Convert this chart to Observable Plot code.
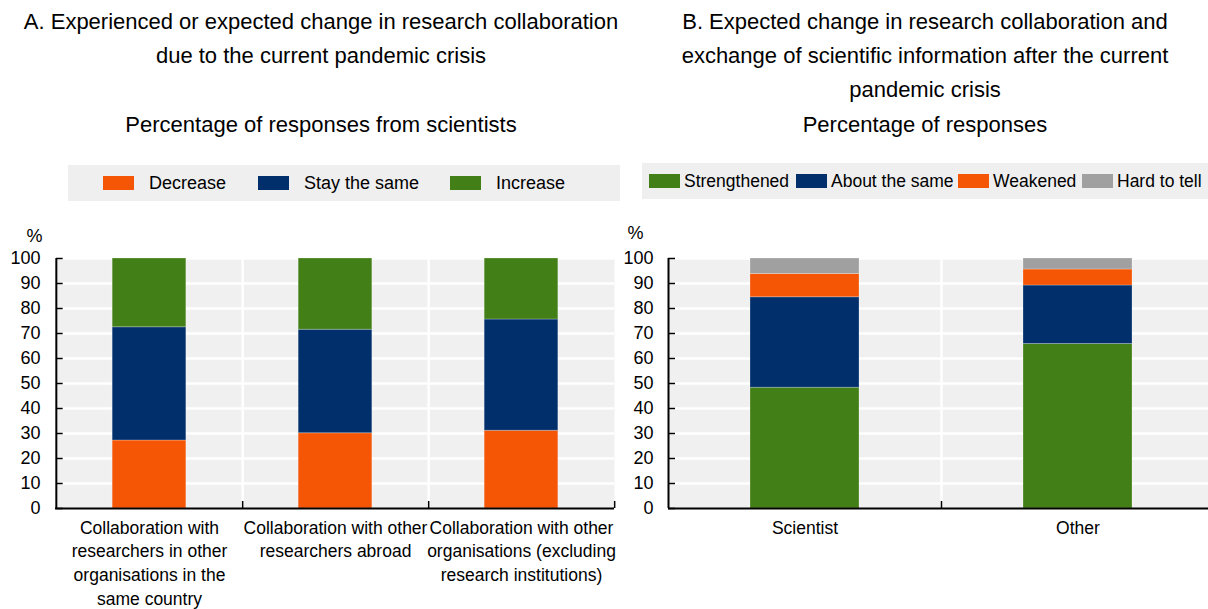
<!DOCTYPE html>
<html>
<head>
<meta charset="utf-8">
<script src="https://cdn.jsdelivr.net/npm/d3@7"></script>
<script src="https://cdn.jsdelivr.net/npm/@observablehq/plot@0.6"></script>
<style>
  html, body { margin: 0; padding: 0; background: #fff; }
  body { width: 1208px; height: 609px; position: relative; overflow: hidden;
         font-family: "Liberation Sans", Arial, sans-serif; color: #000; }
  .title { position: absolute; text-align: center; font-size: 22px; line-height: 34px; }
  .legend { position: absolute; background: #efefef; }
  .legend .item { display: flex; align-items: center; position: absolute; white-space: nowrap; }
  .legend .sw { width: 31px; height: 14px; display: inline-block; flex: none; }
  .plotwrap { position: absolute; }
  .plotwrap svg { overflow: visible; max-width: none !important; }
</style>
</head>
<body>
<div class="title" id="titleA" style="left:0px; top:5px; width:642px;"></div>
<div class="title" id="subA" style="left:0px; top:108px; width:642px;"></div>
<div class="title" id="titleB" style="left:640px; top:5px; width:570px;"></div>
<div class="title" id="subB" style="left:640px; top:108px; width:570px;"></div>
<div class="legend" id="legA" style="left:68px; top:165px; width:552px; height:36px; font-size:18px;"></div>
<div class="legend" id="legB" style="left:642px; top:163px; width:566px; height:36px; font-size:17.5px;"></div>
<div class="plotwrap" id="plotA" style="left:0px; top:220px; width:620px;"></div>
<div class="plotwrap" id="plotB" style="left:600px; top:220px; width:614px;"></div>
<script>
// ---------- Data ----------
const titleA = ["A. Experienced or expected change in research collaboration", "due to the current pandemic crisis"];
const subtitleA = "Percentage of responses from scientists";
const titleB = ["B. Expected change in research collaboration and", "exchange of scientific information after the current", "pandemic crisis"];
const subtitleB = "Percentage of responses";

const categoriesA = [
  "Collaboration with\nresearchers in other\norganisations in the\nsame country",
  "Collaboration with other\nresearchers abroad",
  "Collaboration with other\norganisations (excluding\nresearch institutions)"
];
const seriesA = ["Decrease", "Stay the same", "Increase"];
const decreaseA = [27.2, 30.1, 31.1];
const stayA = [45.3, 41.4, 44.5];
const increaseA = [27.5, 28.5, 24.4];
const colorsA = ["#f55605", "#002f6c", "#437f17"];

const categoriesB = ["Scientist", "Other"];
const seriesB = ["Strengthened", "About the same", "Weakened", "Hard to tell"];
const strengthenedB = [48.3, 65.8];
const aboutSameB = [36.2, 23.4];
const weakenedB = [9.3, 6.4];
const hardToTellB = [6.2, 4.4];
const colorsB = ["#437f17", "#002f6c", "#f55605", "#a0a0a0"];

const yTicks = [0, 10, 20, 30, 40, 50, 60, 70, 80, 90, 100];

// ---------- Titles ----------
document.getElementById("titleA").innerHTML = titleA.join("<br>");
document.getElementById("subA").textContent = subtitleA;
document.getElementById("titleB").innerHTML = titleB.join("<br>");
document.getElementById("subB").textContent = subtitleB;

// ---------- Legends ----------
function legend(el, names, colors, swLefts, gap) {
  names.forEach((n, i) => {
    const it = document.createElement("div");
    it.className = "item";
    it.style.left = swLefts[i] + "px";
    it.style.top = "10px";
    it.innerHTML = `<span class="sw" style="background:${colors[i]}"></span><span style="margin-left:${gap}px;line-height:16px">${n}</span>`;
    el.appendChild(it);
  });
}
legend(document.getElementById("legA"), seriesA, colorsA, [35, 190, 382], 15);
legend(document.getElementById("legB"), seriesB, colorsB, [7, 154, 316, 440], 4);

// ---------- Chart builder ----------
function stackedChart({categories, series, values, colors, width, marginLeft, marginRight, barWidth, pctDx, pctDy}) {
  const height = 389, marginTop = 38, marginBottom = 101;
  const rows = [];
  series.forEach((s, si) => categories.forEach((c, ci) => rows.push({cat: c, series: s, value: values[si][ci]})));
  const band = (width - marginLeft - marginRight) / categories.length;
  const inset = (band - barWidth) / 2;
  return Plot.plot({
    width, height, marginLeft, marginRight, marginTop, marginBottom,
    style: {fontFamily: '"Liberation Sans", Arial, sans-serif', fontSize: "18px", color: "#000", background: "transparent"},
    x: {domain: categories, padding: 0, label: null},
    y: {domain: [0, 100], label: null},
    color: {domain: series, range: colors},
    marks: [
      Plot.frame({fill: "#f0f0f0", stroke: null}),
      Plot.ruleY(yTicks.slice(1), {stroke: "#fff", strokeWidth: 2.5}),
      Plot.ruleX(categories.slice(0, -1), {x: d => d, dx: band / 2, y1: 0, y2: 100, stroke: "#fff", strokeWidth: 2.5}),
      Plot.barY(rows, Plot.stackY({x: "cat", y: "value", fill: "series", order: series, insetLeft: inset, insetRight: inset, stroke: "#ffffff", strokeOpacity: 0.25, strokeWidth: 1})),
      // axis lines and ticks
      Plot.ruleY([0], {stroke: "#000", strokeWidth: 2}),
      Plot.ruleX([categories[0]], {x: d => d, dx: -band / 2, y1: 0, y2: 100, stroke: "#000", strokeWidth: 2}),
      Plot.ruleX(categories, {x: d => d, dx: band / 2, y1: 0, y2: 0, insetTop: -7, stroke: "#000", strokeWidth: 1.5}),
      Plot.tickY(yTicks, {y: d => d, x: () => categories[0], insetLeft: 0, insetRight: band - 7, stroke: "#000", strokeWidth: 1.5}),
      Plot.axisY(yTicks, {anchor: "left", tickSize: 0, tickPadding: 15, tickFormat: d => d, fontSize: 18}),
      Plot.axisX({anchor: "bottom", tickSize: 0, tickPadding: 8, fontSize: 17.5, lineHeight: 1.37}),
      Plot.text(["%"], {frameAnchor: "top-left", dx: pctDx - marginLeft, dy: pctDy, fontSize: 18})
    ]
  });
}

const chartA = stackedChart({
  categories: categoriesA, series: seriesA, values: [decreaseA, stayA, increaseA], colors: colorsA,
  width: 620, marginLeft: 55, marginRight: 6, barWidth: 74, pctDx: 26, pctDy: -29
});
const chartB = stackedChart({
  categories: categoriesB, series: seriesB, values: [strengthenedB, aboutSameB, weakenedB, hardToTellB], colors: colorsB,
  width: 614, marginLeft: 68, marginRight: 0, barWidth: 109, pctDx: 27, pctDy: -32
});
document.getElementById("plotA").appendChild(chartA);
document.getElementById("plotB").appendChild(chartB);
</script>
</body>
</html>
